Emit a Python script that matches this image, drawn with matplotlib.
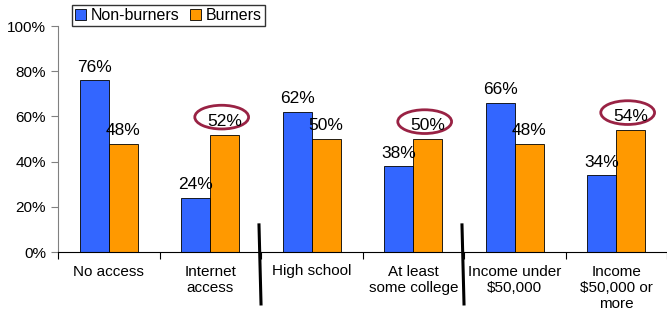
import matplotlib.pyplot as plt
from matplotlib.patches import Ellipse
import numpy as np

plt.rcParams['font.family'] = ['Liberation Sans', 'DejaVu Sans']

categories = ['No access', 'Internet\naccess', 'High school', 'At least\nsome college',
              'Income under\n$50,000', 'Income\n$50,000 or\nmore']
non_burners = [0.76, 0.24, 0.62, 0.38, 0.66, 0.34]
burners = [0.48, 0.52, 0.50, 0.50, 0.48, 0.54]
circled = [1, 3, 5]  # burner labels circled in red
separators = [1.5, 3.5]  # thick black dividers between groups

fig = plt.figure(figsize=(6.67, 3.2), dpi=100)
ax = fig.add_axes([0.087, 0.2125, 0.913, 0.706])

x = np.arange(len(categories))
w = 0.285
b1 = ax.bar(x - w / 2, non_burners, w, color='#3366FF', edgecolor='black', linewidth=0.6, label='Non-burners')
b2 = ax.bar(x + w / 2, burners, w, color='#FF9900', edgecolor='black', linewidth=0.6, label='Burners')

for xi, v in zip(x - w / 2, non_burners):
    ax.annotate('%d%%' % round(v * 100), (xi, v), xytext=(0, 4), textcoords='offset points',
                ha='center', va='bottom', fontsize=12.5)
for xi, v in zip(x + w / 2, burners):
    ax.annotate('%d%%' % round(v * 100), (xi, v), xytext=(0, 4), textcoords='offset points',
                ha='center', va='bottom', fontsize=12.5)

for i in circled:
    ax.add_patch(Ellipse((x[i] + w / 2 - 0.03, burners[i] + 0.077), 0.53, 0.105, fill=False,
                         edgecolor='#992244', linewidth=2, clip_on=False))

for s in separators:
    ax.plot([s - 0.02, s], [0.12, -0.23], color='black', linewidth=2.2, clip_on=False)

ax.set_xlim(-0.5, len(categories) - 0.5)
ax.set_ylim(0, 1)
ax.set_yticks(np.arange(0, 1.01, 0.2))
ax.set_yticklabels(['%d%%' % (t * 100) for t in np.arange(0, 1.01, 0.2)], fontsize=11)
ax.set_xticks(np.arange(-0.5, len(categories), 1))
ax.set_xticklabels([])
ax.set_xticks(x, minor=True)
ax.set_xticklabels(categories, minor=True, fontsize=11)
ax.tick_params(axis='x', which='major', length=5, direction='out')
ax.tick_params(axis='x', which='minor', length=0, pad=9)
ax.tick_params(axis='y', length=5, direction='out', color='gray')

ax.spines['top'].set_visible(False)
ax.spines['right'].set_visible(False)
ax.spines['left'].set_color('gray')

fig.legend(handles=[b1, b2], loc='upper left', bbox_to_anchor=(0.108, 0.985), ncol=2,
           fontsize=11.5, frameon=True, fancybox=False, edgecolor='black',
           handlelength=0.7, handleheight=0.7, handletextpad=0.3, columnspacing=0.6,
           borderpad=0.2, borderaxespad=0)

fig.savefig('out.png', dpi=100)
